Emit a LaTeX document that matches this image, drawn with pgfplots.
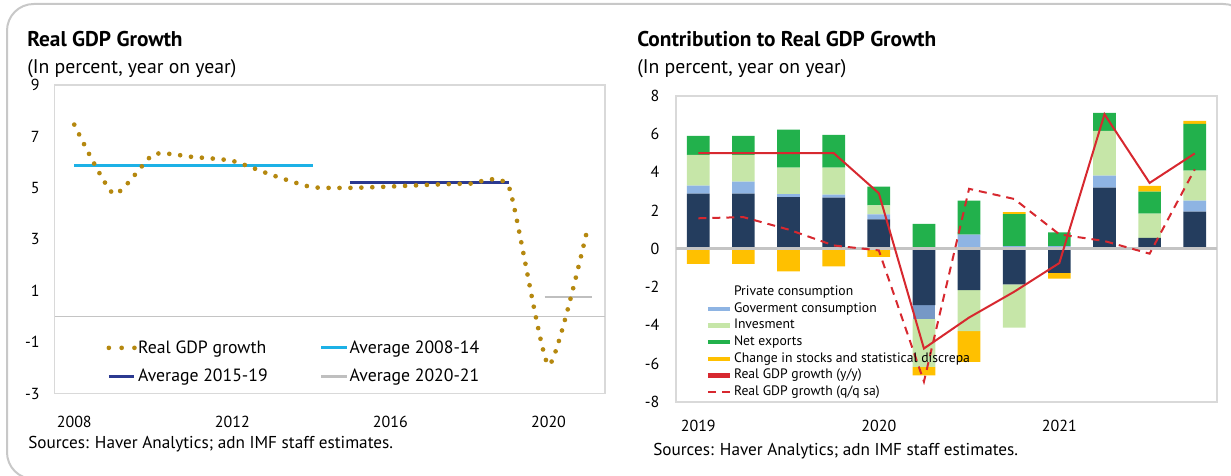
\documentclass[border=0pt]{standalone}
\usepackage{pgfplots}
\usepackage{pgfplotstable}
\pgfplotsset{compat=1.18}
\usepackage{fontspec}
\setmainfont{PT Sans}
\definecolor{gold}{HTML}{B5880F}
\definecolor{avgcyan}{HTML}{1DB1E6}
\definecolor{avgnavy}{HTML}{2B3990}
\definecolor{avggray}{HTML}{BFBFBF}
\definecolor{boxgray}{HTML}{D9D9D9}
\definecolor{framegray}{HTML}{C8C8C8}
\definecolor{pcnavy}{HTML}{243D5E}
\definecolor{govblue}{HTML}{8EB4E3}
\definecolor{govdark}{HTML}{7698C6}
\definecolor{invgreen}{HTML}{C6E6A8}
\definecolor{nxgreen}{HTML}{22B14C}
\definecolor{stkyellow}{HTML}{FFC000}
\definecolor{gdpred}{HTML}{D7282F}
\definecolor{zerogray}{HTML}{C4C4C4}

\pgfplotstableread{
year gdp
2008 7.46
2009 4.76
2010 6.30
2011 6.20
2012 6.05
2013 5.50
2014 5.03
2015 5.00
2016 5.05
2017 5.12
2018 5.16
2019 5.02
2020 -1.90
2021 3.50
}\annual

\pgfplotstableread{
x pc gov inv nx stk
0 2.88 0.42 1.61 0.99 0
1 2.88 0.63 1.40 0.99 0
2 2.69 0.16 1.39 1.98 0
3 2.67 0.16 1.41 1.71 0
4 1.53 0.26 0.47 0.99 0
5 0 0 0 1.30 0
6 0 0.73 0 1.79 0
7 0 0.14 0 1.67 0.10
8 0 0.14 0 0.71 0
9 3.19 0.63 2.34 0.94 0
10 0.56 0 1.28 1.15 0.29
11 1.94 0.58 1.56 2.45 0.15
}\postab

\pgfplotstableread{
x pc gov inv stk
0 0 0 0 -0.80
1 0 0 0 -0.80
2 0 0 0 -1.18
3 0 0 0 -0.92
4 0 0 0 -0.43
5 -2.95 -0.73 -2.50 -0.45
6 -2.17 0 -2.14 -1.61
7 -1.86 0 -2.27 0
8 -1.27 0 0 -0.29
9 0 0 0 0
10 0 0 0 0
11 0 0 0 0
}\negtab

\pgfplotstableread{
x yy qq
0 5.00 1.59
1 5.00 1.65
2 5.00 1.00
3 5.00 0.17
4 2.90 -0.09
5 -5.22 -6.95
6 -3.60 3.13
7 -2.25 2.60
8 -0.75 0.75
9 7.03 0.40
10 3.44 -0.26
11 4.98 4.15
}\gdpq

\pgfplotsset{
  rbase/.style={
    at={(506.775pt,284.475pt)}, anchor=north west,
    scale only axis, width=406.2pt, height=229.5pt,
    xmin=-0.5, xmax=11.5, ymin=-8, ymax=8,
  },
}

\begin{document}
\begin{tikzpicture}[x=0.75pt,y=0.75pt]
\useasboundingbox (0,0) rectangle (1231,475);
\begin{scope}
\clip (0,0) rectangle (1231,475);
\draw[framegray, line width=1.5pt, rounded corners=20pt] (7,471) rectangle (1250,-4);
\end{scope}

% titles
\node[anchor=base west, inner sep=0pt, font=\bfseries\fontsize{16}{18}\selectfont] at (27,428) {Real GDP Growth};
\node[anchor=base west, inner sep=0pt, font=\fontsize{14.8}{17}\selectfont] at (27,401) {(In percent, year on year)};
\node[anchor=base west, inner sep=0pt, font=\bfseries\fontsize{16}{18}\selectfont] at (637,428) {Contribution to Real GDP Growth};
\node[anchor=base west, inner sep=0pt, font=\fontsize{14.8}{17}\selectfont] at (637,401) {(In percent, year on year)};
\node[anchor=base west, inner sep=0pt, font=\fontsize{12.9}{15}\selectfont] at (28,27) {Sources: Haver Analytics; adn IMF staff estimates.};
\node[anchor=base west, inner sep=0pt, font=\fontsize{12.9}{15}\selectfont] at (653,20) {Sources: Haver Analytics; adn IMF staff estimates.};

% ---------------- left chart
\begin{axis}[
  at={(40.875pt,292.5pt)}, anchor=north west,
  scale only axis, width=412.9pt, height=231.4pt,
  xmin=2007.5, xmax=2021.43, ymin=-3, ymax=9,
  xtick={2008,2012,2016,2020}, xticklabels={2008,2012,2016,2020},
  ytick={-3,-1,1,3,5,7,9}, yticklabels={-3,-1,1,3,5,7,9},
  major tick length=0pt,
  axis line style={boxgray, line width=1.3pt},
  tick label style={font=\fontsize{12}{14}\selectfont, inner sep=0pt},
  xticklabel style={anchor=center, yshift=-21.2pt},
  yticklabel style={anchor=east, xshift=-11pt},
  legend columns=2,
  legend image code/.code={\draw[#1] (0pt,0pt) -- (19.2pt,0pt);},
  legend style={at={(0.094,0.177)}, anchor=north west, draw=none, fill=none,
    inner sep=0pt, font=\fontsize{13.3}{15}\selectfont, row sep=8.6pt,
    nodes={inner sep=1pt},
    /tikz/every even column/.append style={column sep=38pt}},
  legend cell align=left,
]
\addplot[zerogray, line width=0.9pt, forget plot] coordinates {(2007.5,0) (2021.43,0)};
\addplot[avgcyan, line width=2pt, forget plot] coordinates {(2008,5.86) (2014.04,5.86)};
\addplot[avgnavy, line width=2pt, forget plot] coordinates {(2014.97,5.22) (2019.01,5.22)};
\addplot[avggray, line width=2pt, forget plot] coordinates {(2019.9,0.76) (2021.1,0.76)};
\addplot[gold, line width=3.5pt, line cap=round, dash pattern=on 0pt off 8.2pt, smooth, tension=0.32, forget plot] table[x=year, y=gdp] {\annual};
\addlegendimage{gold, line width=3.5pt, line cap=round, dash pattern=on 0pt off 9.6pt}
\addlegendentry{Real GDP growth}
\addlegendimage{avgcyan, line width=2.3pt}
\addlegendentry{Average 2008-14}
\addlegendimage{avgnavy, line width=2.3pt}
\addlegendentry{Average 2015-19}
\addlegendimage{avggray, line width=2.3pt}
\addlegendentry{Average 2020-21}
\end{axis}

% ---------------- right chart: axis + positive stack
\begin{axis}[rbase,
  xtick={0,4,8}, xticklabels={2019,2020,2021},
  ytick={-8,-6,...,8}, yticklabels={-8,-6,-4,-2,0,2,4,6,8},
  major tick length=0pt,
  axis line style={boxgray, line width=1.3pt},
  tick label style={font=\fontsize{12}{14}\selectfont, inner sep=0pt},
  xticklabel style={anchor=center, yshift=-18pt},
  yticklabel style={anchor=east, xshift=-12pt},
  ybar stacked, bar width=17pt,
]
\addplot[fill=pcnavy, draw=none] table[x=x, y=pc] {\postab};
\addplot[fill=govblue, draw=none] table[x=x, y=gov] {\postab};
\addplot[fill=invgreen, draw=none] table[x=x, y=inv] {\postab};
\addplot[fill=nxgreen, draw=none] table[x=x, y=nx] {\postab};
\addplot[fill=stkyellow, draw=none] table[x=x, y=stk] {\postab};
\end{axis}

% negative stack
\begin{axis}[rbase, hide axis, ybar stacked, bar width=17pt]
\addplot[fill=pcnavy, draw=none] table[x=x, y=pc] {\negtab};
\addplot[fill=govdark, draw=none] table[x=x, y=gov] {\negtab};
\addplot[fill=invgreen, draw=none] table[x=x, y=inv] {\negtab};
\addplot[fill=stkyellow, draw=none] table[x=x, y=stk] {\negtab};
\end{axis}

% zero line, GDP lines, legend
\begin{axis}[rbase, hide axis,
  legend image code/.code={\draw[#1] (0pt,0pt) -- (17pt,0pt);},
  legend style={at={(0.0545,0.385)}, anchor=north west, draw=none, fill=none,
    inner sep=0pt, font=\fontsize{10.25}{11}\selectfont, row sep=0.5pt,
    nodes={inner sep=1pt, text height=7.5pt, text depth=2.5pt}},
  legend cell align=left,
]
\addplot[zerogray, line width=2.5pt, forget plot] coordinates {(-0.5,0) (11.5,0)};
\addplot[gdpred, line width=1.5pt, forget plot] table[x=x, y=yy] {\gdpq};
\addplot[gdpred, line width=1.5pt, dash pattern=on 6pt off 4.5pt, forget plot] table[x=x, y=qq] {\gdpq};
\addlegendimage{draw opacity=0}
\addlegendentry{Private consumption}
\addlegendimage{govblue, line width=3.4pt}
\addlegendentry{Goverment consumption}
\addlegendimage{invgreen, line width=3.4pt}
\addlegendentry{Invesment}
\addlegendimage{nxgreen, line width=3.4pt}
\addlegendentry{Net exports}
\addlegendimage{stkyellow, line width=3.4pt}
\addlegendentry{Change in stocks and statistical discrepa}
\addlegendimage{gdpred, line width=3.4pt}
\addlegendentry{Real GDP growth (y/y)}
\addlegendimage{gdpred, line width=2pt, dash pattern=on 6pt off 5pt}
\addlegendentry{Real GDP growth (q/q sa)}
\end{axis}
\end{tikzpicture}
\end{document}
